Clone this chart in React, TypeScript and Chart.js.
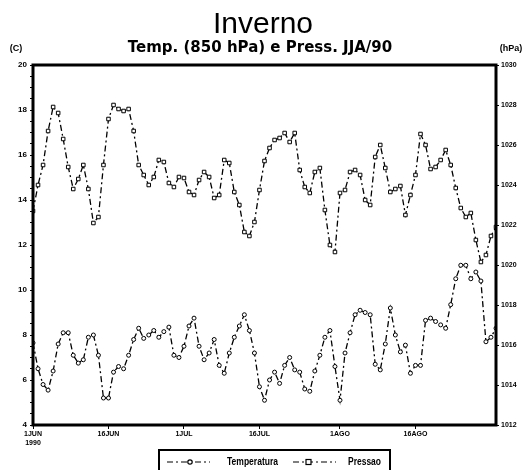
import React, { useEffect, useRef } from "react";
import { Chart, registerables } from "chart.js";

Chart.register(...registerables);

// Daily values, 1 Jun .. 1 Sep 1990 (index = day since 1 Jun)
const temperature: number[] = [
  7.65, 6.5, 5.8, 5.55, 6.4, 7.6, 8.1, 8.1, 7.1, 6.75,
  6.9, 7.9, 8.0, 7.1, 5.2, 5.2, 6.35, 6.6, 6.5, 7.1,
  7.8, 8.3, 7.85, 8.0, 8.2, 7.9, 8.15, 8.35, 7.1, 7.0,
  7.5, 8.4, 8.75, 7.5, 6.9, 7.2, 7.8, 6.65, 6.3, 7.2,
  7.9, 8.4, 8.9, 8.2, 7.2, 5.7, 5.1, 6.0, 6.35, 5.85,
  6.65, 7.0, 6.45, 6.35, 5.6, 5.5, 6.4, 7.1, 7.9, 8.2,
  6.6, 5.1, 7.2, 8.1, 8.9, 9.1, 9.0, 8.9, 6.7, 6.45,
  7.6, 9.2, 8.0, 7.25, 7.55, 6.3, 6.65, 6.65, 8.65, 8.75,
  8.6, 8.45, 8.3, 9.35, 10.5, 11.1, 11.1, 10.5, 10.8, 10.4,
  7.7, 7.9, 8.3,
];

const pressure: number[] = [
  1022.7, 1024.0, 1025.0, 1026.7, 1027.9, 1027.6, 1026.3, 1024.9, 1023.8, 1024.3,
  1025.0, 1023.8, 1022.1, 1022.4, 1025.0, 1027.3, 1028.0, 1027.8, 1027.7, 1027.8,
  1026.7, 1025.0, 1024.5, 1024.0, 1024.4, 1025.25, 1025.15, 1024.1, 1023.9, 1024.4,
  1024.35, 1023.65, 1023.5, 1024.25, 1024.65, 1024.4, 1023.35, 1023.5, 1025.25, 1025.1,
  1023.65, 1023.0, 1021.65, 1021.45, 1022.15, 1023.75, 1025.2, 1025.85, 1026.25, 1026.35,
  1026.6, 1026.15, 1026.6, 1024.75, 1023.9, 1023.6, 1024.65, 1024.85, 1022.75, 1021.0,
  1020.65, 1023.6, 1023.75, 1024.65, 1024.75, 1024.5, 1023.25, 1023.0, 1025.4, 1026.0,
  1024.85, 1023.65, 1023.8, 1023.95, 1022.5, 1023.5, 1024.5, 1026.55, 1026.0, 1024.8,
  1024.9, 1025.25, 1025.75, 1025.0, 1023.85, 1022.85, 1022.4, 1022.6, 1021.25, 1020.15,
  1020.5, 1021.45, 1021.9,
];

const xTickDays: number[] = [0, 15, 30, 45, 61, 76];
const xTickLabels: string[][] = [["1JUN", "1990"], ["16JUN"], ["1JUL"], ["16JUL"], ["1AGO"], ["16AGO"]];

const titleText = "Inverno";
const subtitleText = "Temp. (850 hPa) e Press. JJA/90";
const leftUnit = "(C)";
const rightUnit = "(hPa)";
const seriesNames = ["Temperatura", "Pressao"];

const DASH = [6, 3, 2, 3];

const decorPlugin = {
  id: "decor",
  afterDatasetsDraw(chart: any) {
    const ctx = chart.ctx as CanvasRenderingContext2D;
    const a = chart.chartArea;
    ctx.save();
    // frame
    ctx.strokeStyle = "#000";
    ctx.lineWidth = 3;
    ctx.setLineDash([]);
    ctx.strokeRect(a.left, a.top, a.right - a.left, a.bottom - a.top);
    // titles
    ctx.fillStyle = "#000";
    ctx.textAlign = "center";
    ctx.textBaseline = "alphabetic";
    ctx.font = "30px 'Liberation Sans', Arial, sans-serif";
    ctx.fillText(titleText, 263, 33);
    ctx.font = "bold 15px 'DejaVu Sans', sans-serif";
    ctx.fillText(subtitleText, 260, 52, 276);
    ctx.font = "bold 9px 'Liberation Sans', sans-serif";
    ctx.fillText(leftUnit, 16, 51);
    ctx.fillText(rightUnit, 511, 51);
    // legend
    const lx = 159, ly = 450, lw = 231, lh = 24;
    ctx.lineWidth = 2;
    ctx.strokeRect(lx, ly, lw, lh);
    const cy = 462;
    ctx.lineWidth = 1.2;
    ctx.setLineDash(DASH);
    ctx.beginPath();
    ctx.moveTo(167, cy); ctx.lineTo(210, cy);
    ctx.moveTo(293, cy); ctx.lineTo(336, cy);
    ctx.stroke();
    ctx.setLineDash([]);
    ctx.fillStyle = "#fff";
    ctx.beginPath();
    ctx.arc(190, cy, 2.2, 0, Math.PI * 2);
    ctx.fill(); ctx.stroke();
    ctx.fillRect(306, cy - 2.5, 5, 5);
    ctx.strokeRect(306, cy - 2.5, 5, 5);
    ctx.fillStyle = "#000";
    ctx.textAlign = "left";
    ctx.textBaseline = "middle";
    ctx.font = "bold 11px 'Liberation Sans', sans-serif";
    ctx.fillText(seriesNames[0], 227, cy, 51);
    ctx.fillText(seriesNames[1], 348, cy, 33);
    ctx.restore();
  },
};

export default function App() {
  const ref = useRef<HTMLCanvasElement | null>(null);
  useEffect(() => {
    if (!ref.current) return;
    const tickFont = { family: "'Liberation Sans', sans-serif", size: 8, weight: "bold" as const };
    const chart = new Chart(ref.current, {
      type: "line",
      data: {
        datasets: [
          {
            label: seriesNames[0],
            data: temperature.map((v, i) => ({ x: i, y: v })),
            yAxisID: "yT",
            borderColor: "#000",
            borderWidth: 1.3,
            borderDash: DASH,
            pointStyle: "circle",
            pointRadius: 2,
            pointBackgroundColor: "#fff",
            pointBorderColor: "#000",
            pointBorderWidth: 1,
            tension: 0,
          },
          {
            label: seriesNames[1],
            data: pressure.map((v, i) => ({ x: i, y: v })),
            yAxisID: "yP",
            borderColor: "#000",
            borderWidth: 1.3,
            borderDash: DASH,
            pointStyle: "rect",
            pointRadius: 2.5,
            pointBackgroundColor: "#fff",
            pointBorderColor: "#000",
            pointBorderWidth: 1,
            tension: 0,
          },
        ],
      },
      options: {
        responsive: false,
        animation: false,
        layout: { padding: { top: 65, left: 0, right: 0, bottom: 0 } },
        plugins: { legend: { display: false }, title: { display: false }, tooltip: { enabled: false } },
        scales: {
          x: {
            type: "linear",
            min: 0,
            max: 92,
            afterBuildTicks: (axis: any) => {
              axis.ticks = xTickDays.map((d) => ({ value: d }));
            },
            afterFit: (axis: any) => {
              axis.height = 45;
            },
            ticks: {
              autoSkip: false,
              maxRotation: 0,
              color: "#000",
              font: { family: "'Liberation Sans', sans-serif", size: 7, weight: "bold" as const },
              padding: 1,
              callback: (v: any) => {
                const i = xTickDays.indexOf(Number(v));
                return i >= 0 ? xTickLabels[i] : "";
              },
            },
            grid: { drawOnChartArea: false, color: "#000", tickLength: 4 },
            border: { display: false },
          },
          yT: {
            position: "left",
            min: 4,
            max: 20,
            afterBuildTicks: (axis: any) => {
              const t = [];
              for (let v = 4; v <= 20; v += 0.5) t.push({ value: v });
              axis.ticks = t;
            },
            afterFit: (axis: any) => {
              axis.width = 33;
            },
            ticks: {
              autoSkip: false,
              color: "#000",
              font: tickFont,
              padding: 3,
              callback: (v: any) => (Number(v) % 2 === 0 ? String(v) : ""),
            },
            grid: { drawOnChartArea: false, color: "#000", tickLength: 3 },
            border: { display: false },
          },
          yP: {
            position: "right",
            min: 1012,
            max: 1030,
            afterBuildTicks: (axis: any) => {
              const t = [];
              for (let v = 1012; v <= 1030; v += 2) t.push({ value: v });
              axis.ticks = t;
            },
            afterFit: (axis: any) => {
              axis.width = 32;
            },
            ticks: {
              autoSkip: false,
              color: "#000",
              font: { family: "'Liberation Sans', sans-serif", size: 7, weight: "bold" as const },
              padding: 2,
              callback: (v: any) => String(v),
            },
            grid: { drawOnChartArea: false, color: "#000", tickLength: 3 },
            border: { display: false },
          },
        },
      },
      plugins: [decorPlugin],
    });
    return () => chart.destroy();
  }, []);
  return (
    <div style={{ position: "absolute", left: 0, top: 0, width: 528, height: 470, background: "#fff" }}>
      <canvas ref={ref} width={528} height={470} style={{ width: 528, height: 470, display: "block" }} />
    </div>
  );
}
